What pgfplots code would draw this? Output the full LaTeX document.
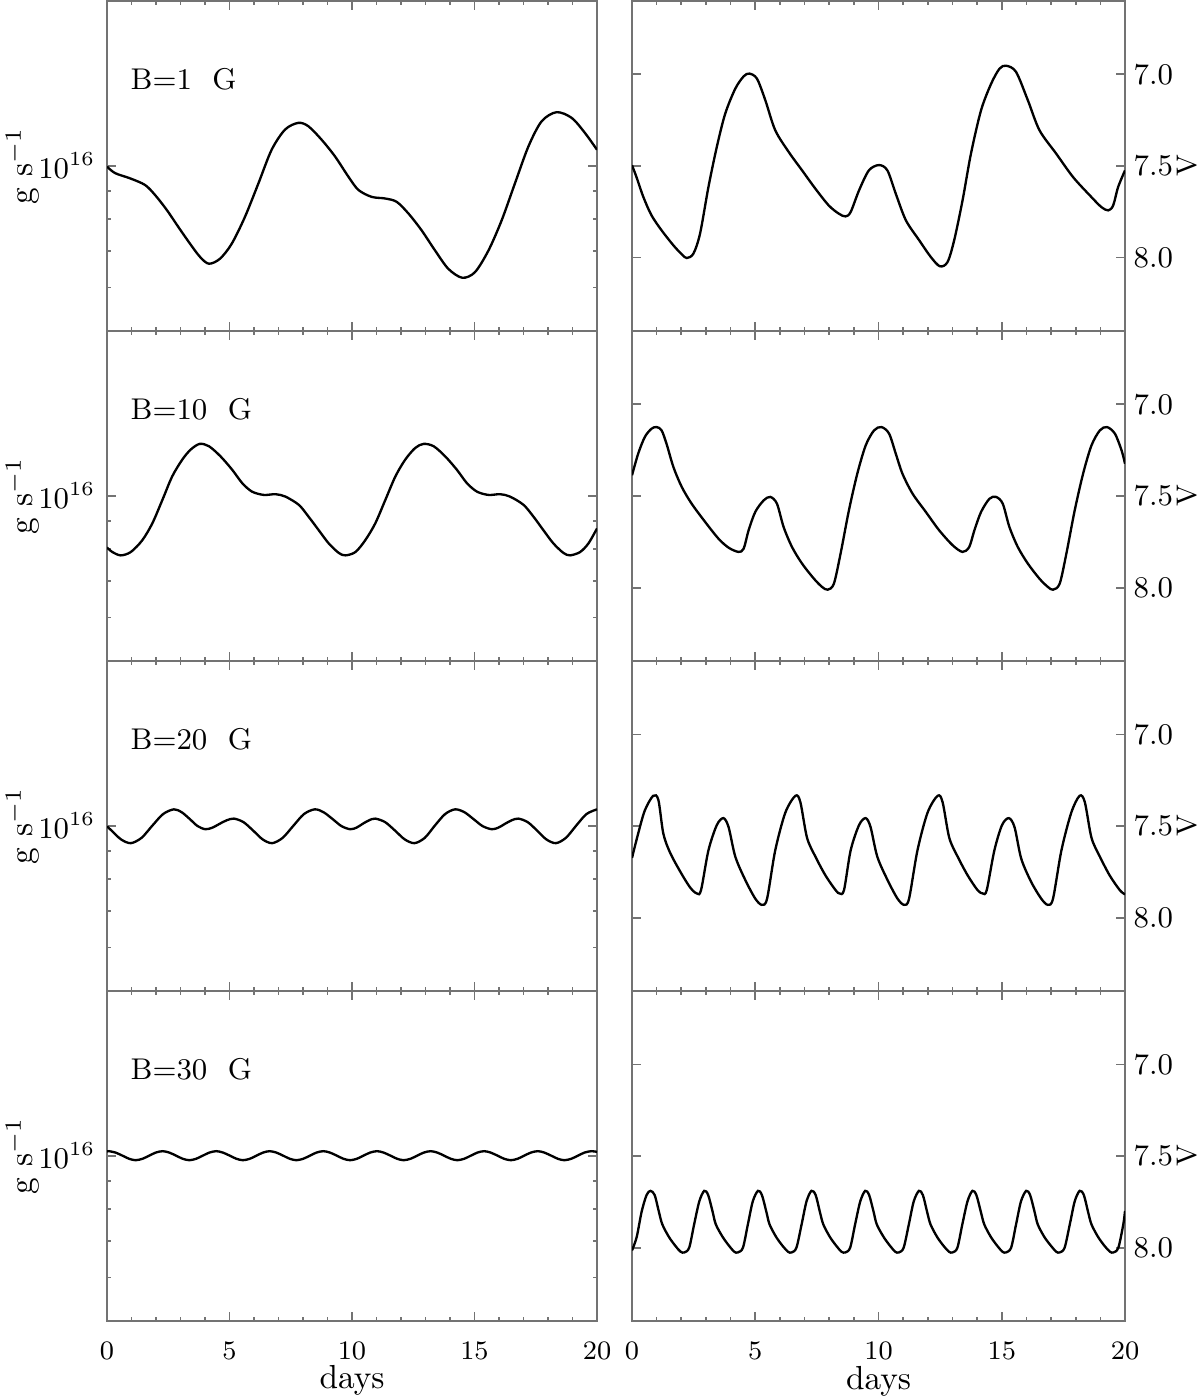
\documentclass[border=0pt]{standalone}
\usepackage{pgfplots}
\pgfplotsset{compat=1.18}
\definecolor{framegray}{gray}{0.45}

\pgfplotsset{
  mybase/.style={
    scale only axis, height=99pt,
    xmin=0, xmax=20,
    xtick={0,5,10,15,20}, minor x tick num=4,
    axis line style={framegray, line width=0.5pt},
    tick style={framegray, line width=0.5pt},
    major tick length=2.6pt, minor tick length=1.3pt,
    tick label style={font=\fontsize{9}{10}\selectfont},
    label style={font=\fontsize{9}{10}\selectfont},
    xticklabel style={font=\fontsize{8.2}{9}\selectfont, inner sep=0pt, yshift=-6.3pt},
    every axis x label/.style={at={(axis description cs:0.5,-0.206)}, anchor=base, inner sep=0pt},
  },
  myleft/.style={mybase, width=147pt,
    ymin=5e15, ymax=2e16,
    ytick={1e16}, yticklabels={$10^{16}$},
    minor ytick={6e15,7e15,8e15,9e15},
    ylabel={g s$^{-1}$},
    every axis y label/.style={at={(axis description cs:-0.172,0.5)}, rotate=90, anchor=center, inner sep=0pt},
  },
  myright/.style={mybase, width=147.9pt,
    y dir=reverse, ymin=6.6, ymax=8.4,
    ytick={7,7.5,8}, yticklabels={7.0,7.5,8.0},
    yticklabel pos=right,
    yticklabel style={inner sep=0pt, xshift=2.4pt},
    ylabel={V},
    every axis y label/.style={at={(axis description cs:1.127,0.5)}, rotate=90, anchor=center, inner sep=0pt, font=\fontsize{8.5}{9}\selectfont},
  },
  lc/.style={black, line width=0.7pt, smooth},
}

\newcommand{\blabel}[1]{\node[anchor=west, inner sep=0pt, font=\fontsize{9}{10}\selectfont] at (rel axis cs:0.047,0.764) {B=#1\ \ G};}

\begin{document}
\begin{tikzpicture}
\path[use as bounding box] (0,0) rectangle (360pt,-419.1pt);

% ---------- row 1 : B = 1 G
\begin{axis}[ymode=log, myleft, at={(32.1pt,-0.3pt)}, anchor=north west, xticklabels={}]
\addplot[lc] coordinates {
(0,0.997e16) (0.33,0.970e16) (0.94,0.949e16) (1.55,0.923e16) (1.96,0.885e16)
(2.44,0.831e16) (2.91,0.774e16) (3.39,0.721e16) (3.80,0.682e16) (4.16,0.663e16)
(4.61,0.677e16) (5.09,0.721e16) (5.63,0.807e16) (6.18,0.929e16) (6.72,1.070e16)
(7.27,1.165e16) (7.81,1.198e16) (8.22,1.181e16) (8.76,1.116e16) (9.31,1.040e16)
(9.85,0.956e16) (10.26,0.904e16) (10.80,0.878e16) (11.35,0.872e16) (11.82,0.860e16)
(12.30,0.819e16) (12.84,0.763e16) (13.39,0.701e16) (13.93,0.649e16) (14.50,0.625e16)
(15.02,0.640e16) (15.57,0.701e16) (16.11,0.796e16) (16.65,0.929e16) (17.20,1.085e16)
(17.74,1.206e16) (18.35,1.253e16) (18.97,1.223e16) (19.51,1.148e16) (20,1.070e16)
};
\blabel{1}
\end{axis}

\begin{axis}[myright, at={(189.6pt,-0.3pt)}, anchor=north west, xticklabels={}]
\addplot[lc] coordinates {
(0,7.496) (0.18,7.560) (0.46,7.669) (0.79,7.769) (1.20,7.851) (1.68,7.933)
(2.02,7.982) (2.22,8.002) (2.49,7.978) (2.76,7.869) (3.10,7.615) (3.44,7.396)
(3.78,7.215) (4.19,7.078) (4.53,7.011) (4.76,6.996) (5.07,7.024) (5.41,7.142)
(5.81,7.305) (6.36,7.424) (6.90,7.524) (7.44,7.624) (7.98,7.715) (8.39,7.760)
(8.66,7.775) (8.87,7.751) (9.21,7.633) (9.61,7.524) (10.02,7.495) (10.36,7.524)
(10.70,7.651) (11.11,7.796) (11.65,7.905) (12.12,7.996) (12.49,8.047) (12.80,8.024)
(13.07,7.905) (13.41,7.687) (13.75,7.433) (14.16,7.196) (14.57,7.051) (14.91,6.969)
(15.18,6.953) (15.58,6.987) (16.06,7.142) (16.53,7.305) (17.21,7.433) (17.89,7.560)
(18.57,7.660) (19.04,7.724) (19.32,7.742) (19.52,7.715) (19.72,7.615) (20,7.524)
};
\end{axis}

% ---------- row 2 : B = 10 G
\begin{axis}[ymode=log, myleft, at={(32.1pt,-99.3pt)}, anchor=north west, xticklabels={}]
\addplot[lc] coordinates {
(0,0.805e16) (0.22,0.790e16) (0.56,0.779e16) (0.97,0.790e16) (1.44,0.830e16)
(1.85,0.891e16) (2.26,0.983e16) (2.66,1.085e16) (3.07,1.164e16) (3.41,1.214e16)
(3.78,1.244e16) (4.16,1.232e16) (4.63,1.181e16) (5.11,1.116e16) (5.52,1.055e16)
(5.92,1.018e16) (6.40,1.004e16) (6.88,1.007e16) (7.28,0.997e16) (7.83,0.963e16)
(8.23,0.916e16) (8.64,0.866e16) (9.05,0.819e16) (9.46,0.787e16) (9.73,0.779e16)
(10.14,0.790e16) (10.54,0.830e16) (10.95,0.891e16) (11.36,0.983e16) (11.77,1.085e16)
(12.17,1.164e16) (12.58,1.223e16) (12.92,1.244e16) (13.33,1.232e16) (13.80,1.181e16)
(14.28,1.116e16) (14.69,1.055e16) (15.10,1.018e16) (15.57,1.004e16) (16.05,1.007e16)
(16.45,0.997e16) (17.00,0.963e16) (17.41,0.916e16) (17.81,0.866e16) (18.22,0.819e16)
(18.63,0.787e16) (18.90,0.779e16) (19.31,0.790e16) (19.65,0.819e16) (20,0.872e16)
};
\blabel{10}
\end{axis}

\begin{axis}[myright, at={(189.6pt,-99.3pt)}, anchor=north west, xticklabels={}]
\addplot[lc] coordinates {
(0,7.387) (0.25,7.269) (0.52,7.178) (0.79,7.133) (1.00,7.124) (1.20,7.142)
(1.40,7.215) (1.68,7.342) (2.02,7.451) (2.42,7.542) (2.97,7.642) (3.51,7.733)
(3.92,7.782) (4.32,7.805) (4.53,7.787) (4.73,7.687) (5.00,7.587) (5.34,7.524)
(5.61,7.505) (5.88,7.542) (6.15,7.669) (6.49,7.778) (6.90,7.869) (7.38,7.951)
(7.71,7.996) (7.94,8.011) (8.19,7.978) (8.46,7.815) (8.80,7.578) (9.14,7.378)
(9.48,7.224) (9.82,7.142) (10.12,7.124) (10.43,7.160) (10.70,7.269) (10.97,7.378)
(11.38,7.487) (11.92,7.587) (12.46,7.687) (13.01,7.769) (13.41,7.805) (13.68,7.778)
(13.89,7.687) (14.16,7.587) (14.50,7.515) (14.77,7.505) (15.04,7.542) (15.31,7.669)
(15.65,7.778) (16.06,7.869) (16.53,7.951) (16.87,7.996) (17.08,8.011) (17.35,7.978)
(17.62,7.815) (17.96,7.578) (18.30,7.378) (18.64,7.224) (18.98,7.142) (19.27,7.124)
(19.59,7.160) (19.86,7.251) (20,7.324)
};
\end{axis}

% ---------- row 3 : B = 20 G
\begin{axis}[ymode=log, myleft, at={(32.1pt,-198.3pt)}, anchor=north west, xticklabels={}]
\addplot[lc] coordinates {
(0,0.998e16) (0.18,0.981e16) (0.57,0.945e16) (0.97,0.930e16)
(1.41,0.951e16) (1.85,1.001e16) (2.29,1.051e16) (2.73,1.072e16)
(3.05,1.059e16) (3.38,1.029e16) (3.70,0.999e16) (4.02,0.986e16)
(4.31,0.993e16) (4.60,1.009e16) (4.89,1.024e16) (5.18,1.031e16)
(5.57,1.016e16) (5.96,0.981e16) (6.35,0.945e16) (6.74,0.930e16)
(7.17,0.951e16) (7.61,1.001e16) (8.04,1.051e16) (8.48,1.072e16)
(8.84,1.059e16) (9.21,1.029e16) (9.57,0.999e16) (9.93,0.986e16)
(10.19,0.993e16) (10.44,1.009e16) (10.70,1.024e16) (10.95,1.031e16)
(11.35,1.016e16) (11.75,0.981e16) (12.15,0.945e16) (12.55,0.930e16)
(12.97,0.951e16) (13.38,1.001e16) (13.80,1.051e16) (14.21,1.072e16)
(14.59,1.059e16) (14.96,1.029e16) (15.33,0.999e16) (15.71,0.986e16)
(15.98,0.993e16) (16.25,1.009e16) (16.52,1.024e16) (16.79,1.031e16)
(17.17,1.016e16) (17.55,0.981e16) (17.93,0.945e16) (18.32,0.930e16)
(18.73,0.951e16) (19.15,1.001e16) (19.57,1.051e16) (20,1.072e16)
};
\blabel{20}
\end{axis}

\begin{axis}[myright, at={(189.6pt,-198.3pt)}, anchor=north west, xticklabels={}]
\addplot[lc] coordinates {
(0,7.674) (0.25,7.541) (0.52,7.415) (0.86,7.335) (1.07,7.358) (1.27,7.541)
(1.54,7.644) (1.95,7.747) (2.35,7.834) (2.63,7.868) (2.80,7.850) (3.10,7.633)
(3.44,7.495) (3.71,7.457) (3.92,7.507) (4.19,7.667) (4.59,7.793) (5.00,7.896)
(5.27,7.930) (5.48,7.896) (5.81,7.633) (6.22,7.427) (6.63,7.335) (6.83,7.370)
(7.10,7.564) (7.44,7.667) (7.85,7.770) (8.26,7.850) (8.42,7.868) (8.60,7.850)
(8.87,7.633) (9.21,7.495) (9.48,7.457) (9.68,7.507) (9.95,7.667) (10.36,7.793)
(10.77,7.896) (11.04,7.930) (11.24,7.896) (11.58,7.633) (11.99,7.427) (12.40,7.335)
(12.60,7.370) (12.87,7.564) (13.21,7.667) (13.62,7.770) (14.02,7.850) (14.23,7.868)
(14.39,7.850) (14.70,7.633) (15.01,7.495) (15.29,7.457) (15.52,7.507) (15.79,7.678)
(16.19,7.804) (16.60,7.896) (16.87,7.930) (17.08,7.896) (17.42,7.633) (17.82,7.427)
(18.16,7.335) (18.37,7.370) (18.64,7.564) (18.98,7.667) (19.38,7.770) (19.79,7.850)
(20,7.873)
};
\end{axis}

% ---------- row 4 : B = 30 G
\begin{axis}[ymode=log, myleft, at={(32.1pt,-297.3pt)}, anchor=north west, xlabel={days}]
\addplot[lc] coordinates {
(0,1.019e16)
(0.08,1.020e16) (0.35,1.014e16) (0.63,1.001e16) (0.90,0.988e16) (1.17,0.982e16) (1.45,0.988e16) (1.72,1.001e16) (1.99,1.014e16)
(2.27,1.020e16) (2.54,1.014e16) (2.82,1.001e16) (3.09,0.988e16) (3.36,0.982e16) (3.64,0.988e16) (3.91,1.001e16) (4.18,1.014e16)
(4.46,1.020e16) (4.73,1.014e16) (5.01,1.001e16) (5.28,0.988e16) (5.55,0.982e16) (5.83,0.988e16) (6.10,1.001e16) (6.37,1.014e16)
(6.64,1.020e16) (6.91,1.014e16) (7.19,1.001e16) (7.46,0.988e16) (7.73,0.982e16) (8.01,0.988e16) (8.28,1.001e16) (8.55,1.014e16)
(8.83,1.020e16) (9.10,1.014e16) (9.38,1.001e16) (9.65,0.988e16) (9.92,0.982e16) (10.20,0.988e16) (10.47,1.001e16) (10.74,1.014e16)
(11.02,1.020e16) (11.29,1.014e16) (11.57,1.001e16) (11.84,0.988e16) (12.11,0.982e16) (12.39,0.988e16) (12.66,1.001e16) (12.93,1.014e16)
(13.21,1.020e16) (13.48,1.014e16) (13.76,1.001e16) (14.03,0.988e16) (14.30,0.982e16) (14.58,0.988e16) (14.85,1.001e16) (15.12,1.014e16)
(15.39,1.020e16) (15.66,1.014e16) (15.94,1.001e16) (16.21,0.988e16) (16.48,0.982e16) (16.76,0.988e16) (17.03,1.001e16) (17.30,1.014e16)
(17.58,1.020e16) (17.85,1.014e16) (18.13,1.001e16) (18.40,0.988e16) (18.67,0.982e16) (18.95,0.988e16) (19.22,1.001e16) (19.49,1.014e16)
(19.77,1.020e16) (20,1.017e16)
};
\blabel{30}
\end{axis}

\begin{axis}[myright, at={(189.6pt,-297.3pt)}, anchor=north west, xlabel={days}]
\addplot[lc] coordinates {
(0,8.015) (0.19,7.942) (0.39,7.804) (0.59,7.713) (0.75,7.690) (0.92,7.713)
(1.09,7.804) (1.23,7.873) (1.50,7.942) (1.77,7.992) (1.97,8.022)
(2.12,8.026) (2.32,8.000) (2.52,7.873) (2.73,7.747) (2.93,7.690) (3.09,7.713)
(3.27,7.804) (3.40,7.873) (3.68,7.942) (3.95,7.992) (4.15,8.022)
(4.29,8.026) (4.50,8.000) (4.70,7.873) (4.90,7.747) (5.11,7.690) (5.27,7.713)
(5.45,7.804) (5.58,7.873) (5.85,7.942) (6.12,7.992) (6.33,8.022)
(6.47,8.026) (6.67,8.000) (6.88,7.873) (7.08,7.747) (7.28,7.690) (7.45,7.713)
(7.62,7.804) (7.76,7.873) (8.03,7.942) (8.30,7.992) (8.50,8.022)
(8.65,8.026) (8.85,8.000) (9.05,7.873) (9.26,7.747) (9.46,7.690) (9.62,7.713)
(9.80,7.804) (9.93,7.873) (10.21,7.942) (10.48,7.992) (10.68,8.022)
(10.82,8.026) (11.02,8.000) (11.23,7.873) (11.43,7.747) (11.64,7.690) (11.80,7.713)
(11.97,7.804) (12.11,7.873) (12.38,7.942) (12.65,7.992) (12.86,8.022)
(13.00,8.026) (13.20,8.000) (13.40,7.873) (13.61,7.747) (13.81,7.690) (13.97,7.713)
(14.15,7.804) (14.29,7.873) (14.56,7.942) (14.83,7.992) (15.03,8.022)
(15.17,8.026) (15.38,8.000) (15.58,7.873) (15.78,7.747) (15.99,7.690) (16.15,7.713)
(16.33,7.804) (16.46,7.873) (16.73,7.942) (17.01,7.992) (17.21,8.022)
(17.35,8.026) (17.55,8.000) (17.76,7.873) (17.96,7.747) (18.16,7.690) (18.33,7.713)
(18.50,7.804) (18.64,7.873) (18.91,7.942) (19.18,7.992) (19.39,8.022)
(19.53,8.026) (19.73,8.000) (19.93,7.873) (20,7.800)
};
\end{axis}
\end{tikzpicture}
\end{document}
